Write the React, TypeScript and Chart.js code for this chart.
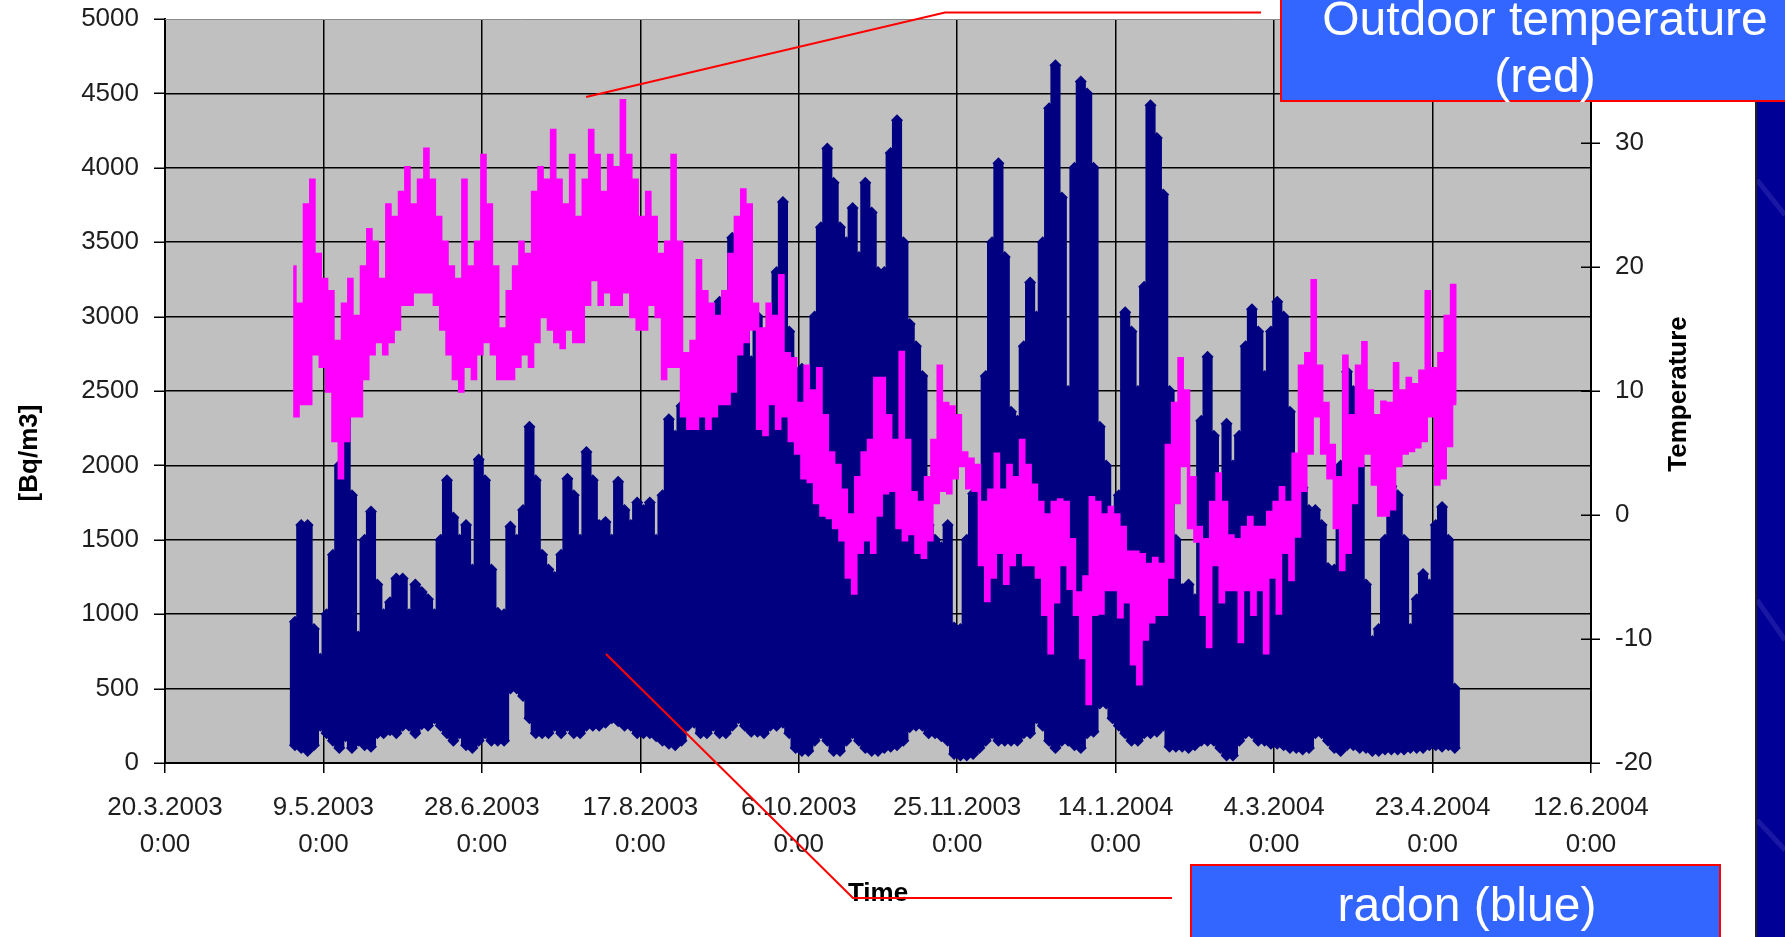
import React, { useEffect, useRef } from "react";
import { Chart, registerables } from "chart.js";

Chart.register(...registerables);

// ---- axis / tick data -------------------------------------------------
// x values are days after 20.3.2003 0:00
const xTickLabels = [
  "20.3.2003", "9.5.2003", "28.6.2003", "17.8.2003", "6.10.2003",
  "25.11.2003", "14.1.2004", "4.3.2004", "23.4.2004", "12.6.2004",
];
const xTickTime = "0:00";
const xTickStepDays = 50;
const xMaxDays = 450;

// samples: every 2 days, first sample at day 41 (30.4.2003)
const firstSampleDay = 41;
const sampleStepDays = 2;

// ---- radon [Bq/m3], upper and lower envelope per 2-day sample ----------
const radonHigh = [
  950, 1600, 1600, 900, 700, 1000, 1400, 2000, 2420, 1800,
  850, 1500, 1690, 1200, 1000, 1080, 1240, 1240, 1000, 1200,
  1150, 1100, 1000, 1500, 1900, 1650, 1500, 1600, 1300, 2040,
  1900, 1300, 1010, 1000, 1590, 1500, 1700, 2260, 1900, 1400,
  1300, 1250, 1400, 1910, 1800, 1500, 2090, 1900, 1600, 1620,
  1500, 1890, 1700, 1600, 1750, 1700, 1750, 1500, 1800, 2310,
  2200, 2400, 2700, 2500, 2600, 2900, 3000, 3100, 2800, 3530,
  3000, 3160, 2700, 3000, 2500, 2800, 3300, 3770, 2900, 2600,
  2650, 2400, 3000, 3600, 4130, 3900, 3600, 3500, 3730, 3400,
  3900, 3700, 3300, 3300, 4100, 4320, 3500, 2950, 2800, 2600,
  1600, 1500, 1450, 1600, 910, 900, 1500, 1810, 1600, 2600,
  3500, 4030, 3400, 2360, 2300, 2800, 3230, 3000, 3500, 4400,
  4690, 3800, 2500, 4000, 4580, 4500, 4000, 2260, 2000, 1500,
  1800, 3030, 2900, 2500, 3200, 4420, 4200, 3820, 2500, 1500,
  1170, 1200, 1100, 2300, 2730, 2200, 1600, 2280, 2000, 2200,
  2800, 3050, 2900, 2600, 2900, 3100, 3000, 2360, 2000, 1850,
  1700, 1700, 1600, 1310, 1300, 2000, 2630, 2500, 2000, 1200,
  820, 900, 1500, 1860, 1800, 1500, 900, 1100, 1270, 1200,
  1600, 1720, 1500, 500,
];
const radonLow = [
  120, 100, 80, 120, 250, 200, 150, 100, 180, 100,
  150, 120, 110, 200, 200, 220, 200, 250, 250, 200,
  260, 250, 300, 250, 200, 150, 200, 120, 100, 150,
  200, 150, 150, 150, 500, 500, 450, 300, 200, 200,
  200, 250, 200, 250, 200, 200, 250, 250, 250, 270,
  300, 280, 250, 250, 200, 200, 200, 180, 150, 130,
  120, 150, 250, 270, 200, 200, 250, 200, 200, 250,
  300, 250, 210, 210, 200, 250, 250, 270, 200, 100,
  80, 80, 150, 200, 150, 80, 80, 150, 200, 150,
  100, 80, 80, 100, 110, 120, 150, 240, 250, 250,
  200, 200, 180, 150, 60, 50, 50, 60, 100, 150,
  200, 150, 150, 150, 150, 200, 200, 300, 250, 150,
  100, 150, 150, 120, 100, 200, 210, 400, 400, 300,
  250, 200, 150, 150, 200, 200, 210, 250, 110, 110,
  110, 100, 120, 150, 150, 150, 100, 50, 50, 150,
  200, 200, 150, 150, 130, 130, 120, 100, 100, 90,
  100, 200, 200, 150, 100, 80, 120, 120, 100, 100,
  80, 80, 90, 90, 90, 90, 100, 100, 100, 120,
  120, 110, 120, 100,
];

// ---- outdoor temperature [°C], max and min per 2-day sample -------------
const tempHigh = [
  20, 17, 25, 27, 21, 19, 18, 14, 17, 19,
  16, 20, 23, 22, 19, 25, 24, 26, 28, 25,
  27, 29.5, 27, 24, 22, 20, 19, 27, 20, 22,
  29, 25, 20, 15, 18, 20, 22, 21, 26, 28,
  27, 31, 27, 25, 29, 24, 27, 31, 29, 26,
  29, 28, 33.4, 29, 27, 24, 26, 24, 21, 22,
  29, 22, 13, 14, 20.5, 18, 17, 16, 18, 21,
  24, 26.2, 25, 17, 15, 17, 16, 19.3, 13, 12.6,
  9, 12, 10, 11.8, 8, 5, 4, 2, 0, 3,
  5, 6, 11, 11, 8, 6, 13.1, 6, 1.8, 1,
  3, 6, 12, 9, 8.7, 8, 5, 4.5, 4, 1,
  2, 4.9, 2, 4, 3, 6, 4, 2.4, 1, 0,
  1, 1.2, 1, -2, -6.3, -5, 1.4, 1, 0, 0.6,
  0, -1, -3, -3, -3.2, -4, -3.5, -4, 5.6, 9,
  12.6, 10, 3, -1, -2, 1, 3.3, 1, -1.7, -2,
  -1, -0.2, -1, -1, 0.2, 1, 2.2, 1, 4.9, 12,
  13, 18.9, 12, 9, 5.6, 3, 12.8, 8, 12, 13.9,
  10, 8, 9.1, 9, 12.2, 10, 11, 10.5, 11.6, 18,
  11.8, 13, 16, 18.5,
];
const tempLow = [
  8, 9, 9, 13, 12, 10, 6, 3, 6, 8,
  8, 11, 13, 14, 13, 14, 15, 17, 17, 18,
  18, 18, 17, 15, 13, 11, 10, 12, 11, 13,
  14, 13, 11, 11, 11, 12, 13, 12, 14, 16,
  15, 14, 13.5, 15, 14, 14, 17, 19, 17, 18,
  17, 17, 18, 16, 15, 15, 17, 16, 11, 12,
  12, 8, 7, 7, 8, 7, 8, 9, 9, 10,
  13, 14, 15, 7, 6.5, 9, 7, 8, 6, 5,
  3, 2.7, 1, 0, -0.2, -1, -2, -5, -6.3, -3,
  -2, -3, 0, 1.8, 2, -1, -2, -1.5, -3, -3.4,
  -2, 1, 2, 1.8, 3, 4, 2.2, 2, -4, -6.9,
  -5, -3, -5.5, -4, -3, -4, -4, -5, -8, -11.1,
  -7, -4, -5.9, -8, -11.5, -15.2, -8, -7.9, -6, -6,
  -8.2, -7, -12, -13.6, -10, -8.6, -8, -8, -5, 1,
  4, -1, -2.1, -8, -10.6, -4, -7, -6, -6, -10.2,
  -6, -8, -6, -11.1, -5, -7.9, -3, -5.2, -1.7, 2,
  5, 8, 5, 3, -1, -4.4, -3, 1, 4, 5,
  2.5, 0, 0, 0.5, 4, 5, 5.2, 5.5, 6, 8,
  2.5, 3, 5.6, 9,
];

const FONT = "'Liberation Sans', Arial, Helvetica, sans-serif";
const NAVY = "#000080";
const MAGENTA = "#FF00FF";
const TICK_COLOR = "#1e1e1e";

function sampleDay(i: number) {
  return firstSampleDay + i * sampleStepDays;
}

function drawText(ctx: CanvasRenderingContext2D, text: string, x: number, y: number, font: string, color: string, rot = 0) {
  ctx.save();
  ctx.translate(x, y);
  if (rot) ctx.rotate(rot);
  ctx.font = font;
  ctx.fillStyle = color;
  ctx.textAlign = "center";
  ctx.textBaseline = "middle";
  ctx.fillText(text, 0, 0);
  ctx.restore();
}

const decorPlugin = {
  id: "decor",
  beforeDraw(chart: any) {
    const { ctx, chartArea: a, width, height } = chart;
    ctx.save();
    ctx.fillStyle = "#ffffff";
    ctx.fillRect(0, 0, width, height);
    // slide background strip on the right
    ctx.fillStyle = "#000096";
    ctx.fillRect(1757, 0, width - 1757, height);
    ctx.strokeStyle = "rgba(80,80,200,0.3)";
    ctx.lineWidth = 5;
    [[180, 215], [600, 640], [820, 850]].forEach(([y0, y1]) => {
      ctx.beginPath();
      ctx.moveTo(1757, y0);
      ctx.lineTo(width, y1);
      ctx.stroke();
    });
    ctx.fillStyle = "#202020";
    ctx.fillRect(1755, 0, 2, height);
    // plot area
    ctx.fillStyle = "#c0c0c0";
    ctx.fillRect(a.left, a.top, a.right - a.left, a.bottom - a.top);
    ctx.restore();
  },
  afterDraw(chart: any) {
    const { ctx, chartArea: a } = chart;
    ctx.save();
    // top border of plot area
    ctx.strokeStyle = "#8a8a8a";
    ctx.lineWidth = 1;
    ctx.beginPath();
    ctx.moveTo(a.left, a.top + 0.5);
    ctx.lineTo(a.right, a.top + 0.5);
    ctx.stroke();
    // tick marks of both value axes
    ctx.strokeStyle = "#000";
    ctx.lineWidth = 1.5;
    const yL = chart.scales.y;
    yL.ticks.forEach((t: any) => {
      const py = Math.round(yL.getPixelForValue(t.value)) + 0.25;
      ctx.beginPath();
      ctx.moveTo(a.left - 11, py);
      ctx.lineTo(a.left, py);
      ctx.stroke();
    });
    const y1 = chart.scales.y1;
    y1.ticks.forEach((t: any) => {
      const py = Math.round(y1.getPixelForValue(t.value)) + 0.25;
      ctx.beginPath();
      ctx.moveTo(a.right - 10, py);
      ctx.lineTo(a.right + 9, py);
      ctx.stroke();
    });
    // axis titles
    const titleFont = `bold 26px ${FONT}`;
    drawText(ctx, "[Bq/m3]", 30, 453, titleFont, "#000", -Math.PI / 2);
    drawText(ctx, "Temperature", 1679, 394, titleFont, "#000", -Math.PI / 2);
    drawText(ctx, "Time", (a.left + a.right) / 2, 894, titleFont, "#000");

    // callout lines
    ctx.strokeStyle = "#ff0000";
    ctx.lineWidth = 2;
    ctx.beginPath();
    ctx.moveTo(1261, 12.5);
    ctx.lineTo(945, 12.5);
    ctx.lineTo(586, 97);
    ctx.stroke();
    ctx.beginPath();
    ctx.moveTo(606, 654);
    ctx.lineTo(853, 898);
    ctx.lineTo(1172, 898);
    ctx.stroke();

    // label boxes
    const boxBlue = "#3366ff";
    ctx.fillStyle = boxBlue;
    ctx.fillRect(1281, 0, 1785 - 1281, 101);
    ctx.strokeStyle = "#ff0000";
    ctx.lineWidth = 2;
    ctx.beginPath();
    ctx.moveTo(1281, 0);
    ctx.lineTo(1281, 101);
    ctx.lineTo(1785, 101);
    ctx.stroke();
    const boxFont = `48px ${FONT}`;
    drawText(ctx, "Outdoor temperature", 1545, 22, boxFont, "#ffffff");
    drawText(ctx, "(red)", 1545, 79, boxFont, "#ffffff");

    ctx.fillStyle = boxBlue;
    ctx.fillRect(1191, 865, 1720 - 1191, 937 - 865);
    ctx.strokeStyle = "#ff0000";
    ctx.beginPath();
    ctx.moveTo(1191, 940);
    ctx.lineTo(1191, 865);
    ctx.lineTo(1720, 865);
    ctx.lineTo(1720, 940);
    ctx.stroke();
    drawText(ctx, "radon (blue)", 1467, 908, boxFont, "#ffffff");
    ctx.restore();
  },
};

export default function App() {
  const canvasRef = useRef<HTMLCanvasElement | null>(null);

  useEffect(() => {
    if (!canvasRef.current) return;
    Chart.defaults.font.family = FONT;

    const radonBars = radonHigh.map((h, i) => ({ x: sampleDay(i), y: [radonLow[i], h] }));
    const radonMarks = [
      ...radonHigh.map((h, i) => ({ x: sampleDay(i), y: h })),
      ...radonLow.map((l, i) => ({ x: sampleDay(i), y: l })),
    ];
    const tempPoints: { x: number; y: number }[] = [];
    tempHigh.forEach((h, i) => {
      const d = sampleDay(i);
      tempPoints.push({ x: d - 0.5, y: h });
      tempPoints.push({ x: d + 0.5, y: tempLow[i] });
    });

    const chart = new Chart(canvasRef.current, {
      type: "line",
      data: {
        datasets: [
          {
            type: "line",
            label: "Outdoor temperature",
            data: tempPoints,
            yAxisID: "y1",
            borderColor: MAGENTA,
            borderWidth: 3.5,
            borderJoinStyle: "miter",
            borderCapStyle: "butt",
            stepped: "middle",
            pointRadius: 0,
            tension: 0,
            fill: false,
            order: 0,
          },
          {
            type: "scatter",
            label: "radon",
            data: radonMarks,
            yAxisID: "y",
            pointStyle: "rectRot",
            pointRadius: 6,
            backgroundColor: NAVY,
            borderColor: NAVY,
            borderWidth: 0,
            order: 1,
          },
          {
            type: "bar",
            label: "radon range",
            data: radonBars as any,
            yAxisID: "y",
            backgroundColor: NAVY,
            borderWidth: 0,
            barPercentage: 1.6,
            categoryPercentage: 1,
            order: 2,
          },
        ],
      },
      options: {
        responsive: false,
        animation: false,
        events: [],
        layout: { padding: { top: 19, left: 0, right: 0, bottom: 0 } },
        plugins: { legend: { display: false }, tooltip: { enabled: false }, title: { display: false } },
        scales: {
          x: {
            type: "linear",
            position: "bottom",
            min: 0,
            max: xMaxDays,
            offset: false,
            afterFit: (s: any) => { s.height = 174; },
            grid: {
              offset: false,
              color: "#000",
              lineWidth: 1.5,
              tickLength: 10,
              tickColor: "#000",
              tickWidth: 1.5,
            },
            border: { display: true, color: "#000", width: 2 },
            ticks: {
              stepSize: xTickStepDays,
              autoSkip: false,
              maxRotation: 0,
              minRotation: 0,
              padding: 16,
              color: TICK_COLOR,
              font: { size: 26, lineHeight: 37 / 26 },
              callback: (v: any) => {
                const idx = Math.round(Number(v) / xTickStepDays);
                return [xTickLabels[idx] ?? "", xTickTime];
              },
            },
          },
          y: {
            type: "linear",
            position: "left",
            min: 0,
            max: 5000,
            afterFit: (s: any) => { s.width = 165; },
            grid: {
              color: (c: any) => (c.tick && c.tick.value === 5000 ? "rgba(0,0,0,0)" : "#000"),
              lineWidth: 1.5,
              tickLength: 26,
              tickColor: "rgba(0,0,0,0)",
              tickWidth: 1.5,
            },
            border: { display: true, color: "#000", width: 2 },
            ticks: {
              stepSize: 500,
              padding: 0,
              color: TICK_COLOR,
              font: { size: 26 },
              callback: (v: any) => String(v),
            },
          },
          y1: {
            type: "linear",
            position: "right",
            min: -20,
            max: 40,
            afterFit: (s: any) => { s.width = 194; },
            grid: {
              drawOnChartArea: false,
              tickLength: 24,
              tickColor: "rgba(0,0,0,0)",
              tickWidth: 1.5,
            },
            border: { display: true, color: "#000", width: 2 },
            ticks: {
              stepSize: 10,
              padding: 0,
              color: TICK_COLOR,
              font: { size: 26 },
              callback: (v: any) => String(v),
            },
          },
        },
      },
      plugins: [decorPlugin],
    });

    return () => chart.destroy();
  }, []);

  return (
    <div style={{ position: "fixed", left: 0, top: 0, width: 1785, height: 937, background: "#fff" }}>
      <canvas ref={canvasRef} width={1785} height={937} style={{ display: "block" }} />
    </div>
  );
}
